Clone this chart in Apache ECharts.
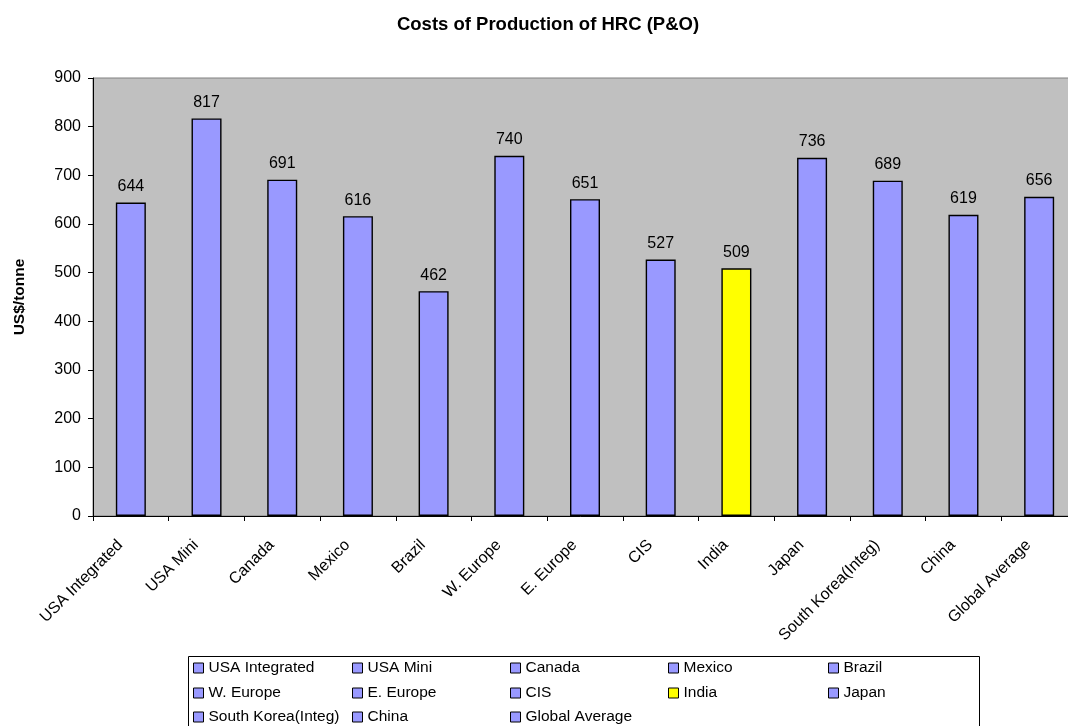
<!DOCTYPE html>
<html>
<head>
<meta charset="utf-8">
<script src="https://cdn.jsdelivr.net/npm/echarts@6/dist/echarts.min.js"></script>
<style>
  html, body { margin: 0; padding: 0; background: #fff; }
  #chart { width: 1068px; height: 726px; }
</style>
</head>
<body>
<div id="chart"></div>
<script>
// Cost of production of hot-rolled coil, US$ per tonne
const categories = ['USA Integrated', 'USA Mini', 'Canada', 'Mexico', 'Brazil', 'W. Europe',
  'E. Europe', 'CIS', 'India', 'Japan', 'South Korea(Integ)', 'China', 'Global Average'];
const costs = [644, 817, 691, 616, 462, 740, 651, 527, 509, 736, 689, 619, 656];
const barColors = ['#9999FF', '#9999FF', '#9999FF', '#9999FF', '#9999FF', '#9999FF',
  '#9999FF', '#9999FF', '#FFFF00', '#9999FF', '#9999FF', '#9999FF', '#9999FF'];
const yTicks = { min: 0, max: 900, step: 100 };

const FONT = '"Liberation Sans", Arial, sans-serif';

// one series per country so each gets its own legend entry;
// a shared stack keeps every bar centred on its category
const series = categories.map((name, i) => ({
  name: name,
  type: 'bar',
  stack: 'all',
  barWidth: 30,
  data: categories.map((_, j) => (j === i ? costs[i] : '-')),
  itemStyle: { color: barColors[i], borderColor: '#000', borderWidth: 1.4 },
  label: {
    show: true, position: 'top', distance: 8,
    color: '#000', fontSize: 16, fontFamily: FONT
  },
  emphasis: { disabled: true }
}));

// legend as a fixed grid: five columns, three rows
const colX = [193, 352, 510, 668, 828];
const rowY = [660, 685, 709];
const legends = categories.map((name, i) => ({
  left: colX[i % 5], top: rowY[Math.floor(i / 5)],
  padding: 0,
  itemWidth: 10, itemHeight: 10,
  itemTextGap: 4,
  icon: 'rect',
  selectedMode: false,
  itemStyle: { borderColor: '#000', borderWidth: 1 },
  textStyle: { color: '#000', fontSize: 15.5, fontFamily: FONT },
  data: [name]
}));

const chart = echarts.init(document.getElementById('chart'), null, { renderer: 'canvas' });
chart.setOption({
  animation: false,
  backgroundColor: '#fff',
  title: {
    text: 'Costs of Production of HRC (P&O)',
    left: 543, top: 10, textAlign: 'center',
    textStyle: { fontSize: 18.5, fontWeight: 'bold', color: '#000', fontFamily: FONT }
  },
  grid: {
    left: 93, top: 78, width: 984, height: 438,
    outerBoundsMode: 'none',
    show: true, backgroundColor: '#C0C0C0', borderColor: '#808080', borderWidth: 1
  },
  legend: legends,
  graphic: [{
    type: 'rect',
    shape: { x: 188.5, y: 656.5, width: 791, height: 80 },
    style: { fill: 'none', stroke: '#000', lineWidth: 1 },
    silent: true
  }],
  xAxis: {
    type: 'category',
    data: categories,
    axisLine: { lineStyle: { color: '#000', width: 1 } },
    axisTick: { show: true, length: 5, lineStyle: { color: '#000' } },
    axisLabel: {
      interval: 0, rotate: 45, margin: 16,
      padding: [0, 15, 0, 0],
      color: '#000', fontSize: 16, fontFamily: FONT
    }
  },
  yAxis: {
    type: 'value',
    min: yTicks.min, max: yTicks.max, interval: yTicks.step,
    name: 'US$/tonne',
    nameLocation: 'middle', nameRotate: 90, nameGap: 65,
    nameTextStyle: { fontSize: 15.5, fontWeight: 'bold', color: '#000', fontFamily: FONT },
    axisLine: { show: true, lineStyle: { color: '#000', width: 1 } },
    axisTick: { show: true, length: 5, lineStyle: { color: '#000' } },
    splitLine: { show: false },
    axisLabel: { color: '#000', fontSize: 16, fontFamily: FONT, margin: 12 }
  },
  series: series
});
</script>
</body>
</html>
